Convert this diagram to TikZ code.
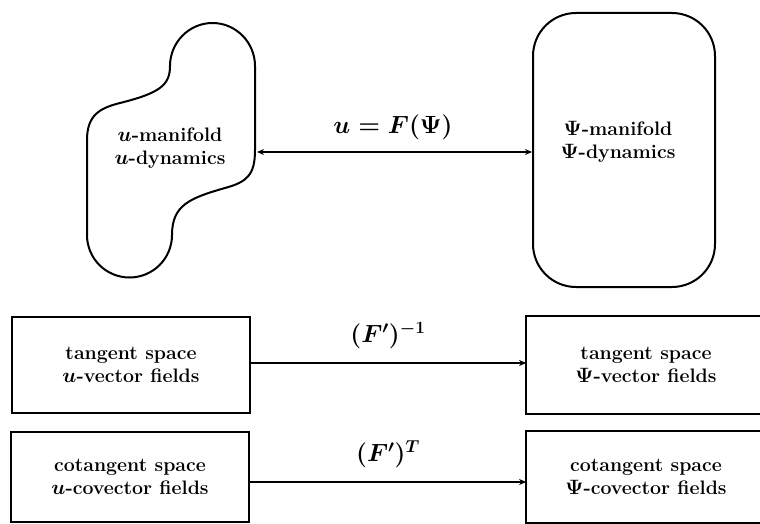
\documentclass[tikz,border=0pt]{standalone}
\usetikzlibrary{arrows.meta}
\begin{document}
\begin{tikzpicture}[x=1pt,y=-1pt,
  shapeline/.style={line width=2pt},
  boxnode/.style={line width=1.8pt,minimum width=238pt,inner sep=0pt,align=center,
    font=\fontsize{19.5}{23}\selectfont\bfseries\boldmath},
  lbl/.style={align=center,font=\fontsize{19.5}{23}\selectfont\bfseries\boldmath},
  maplbl/.style={font=\fontsize{25}{30}\selectfont\boldmath},
  conn/.style={line width=1.4pt,-{Stealth[length=7pt,width=6pt]}},
  dconn/.style={line width=1.4pt,{Stealth[length=7pt,width=6pt]}-{Stealth[length=7pt,width=6pt]}}]
\useasboundingbox[fill=white] (0,0) rectangle (760,524);
% u-manifold blob
\draw[shapeline] (255,66) -- (255,150)
  .. controls (255,175) and (247,182) .. (225,188)
  .. controls (190,198) and (172,205) .. (172,235)
  .. controls (172,258.5) and (153,277.5) .. (129.5,277.5)
  .. controls (106,277.5) and (87,258.5) .. (87,235)
  -- (87,140)
  .. controls (87,115) and (100,108) .. (120,103)
  .. controls (160,93) and (170,85) .. (170,66)
  .. controls (170,42.5) and (189,23) .. (212.5,23)
  .. controls (236,23) and (255,42.5) .. (255,66) -- cycle;
\coordinate (blobE) at (257,152);
\node[lbl] (utext) at (170,148) {$u$-manifold\\$u$-dynamics};
% Psi-manifold
\node[draw,shapeline,rounded corners=43pt,minimum width=182pt,minimum height=274pt,inner sep=0pt] (psi) at (624,150) {};
\node[lbl] (psitext) at (618,142) {$\Psi$-manifold\\$\Psi$-dynamics};
\draw[dconn] (blobE) -- (blobE -| psi.west);
\node[maplbl] (fmap) at (393,127) {$u=F(\Psi)$};
% tangent spaces
\node[boxnode,draw,minimum height=96pt] (tl) at (131,365) {tangent space\\$u$-vector fields};
\node[boxnode,minimum height=96pt] (tr) at (646,365) {tangent space\\$\Psi$-vector fields};
\draw[line width=1.8pt] (tr.north -| 760,0) -- (tr.north west) -- (tr.south west) -- (tr.south -| 760,0);
\draw[conn] (tl.east |- 0,363) -- (tr.west |- 0,363);
\node[maplbl] (finv) at (388,336) {$(F')^{-1}$};
% cotangent spaces
\node[boxnode,draw,minimum height=90pt] (cl) at (130,477) {cotangent space\\$u$-covector fields};
\node[boxnode,minimum height=90pt] (cr) at (646,477) {cotangent space\\$\Psi$-covector fields};
\draw[line width=1.8pt] (cr.north -| 760,0) -- (cr.north west) -- (cr.south west) -- (cr.south -| 760,0);
\draw[conn] (cl.east |- 0,482) -- (cr.west |- 0,482);
\node[maplbl] (ftr) at (388,454) {$(F')^{T}$};
\end{tikzpicture}
\end{document}
